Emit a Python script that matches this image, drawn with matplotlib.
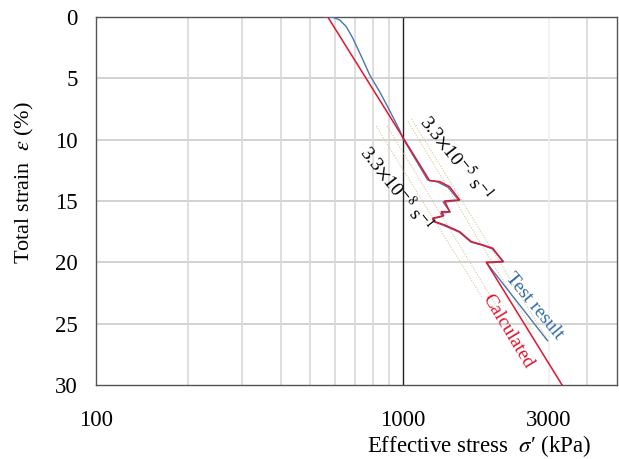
import matplotlib
matplotlib.use("Agg")
import matplotlib.pyplot as plt
import numpy as np

plt.rcParams['font.family'] = ['Liberation Serif', 'DejaVu Serif']
plt.rcParams['mathtext.fontset'] = 'stix'

# test result (effective stress kPa, total strain %)
test_stress = [557, 591, 623, 655, 687, 734, 781, 841, 893, 977, 1000, 1206,
               1300, 1410, 1468, 1525, 1355, 1430, 1330, 1352, 1250, 1266,
               1365, 1530, 1670, 1815, 1960, 2135, 1880, 2966]
test_strain = [0.0, 0.02, 0.24, 0.79, 1.71, 3.24, 4.73, 6.09, 7.31, 9.21, 9.86, 13.28,
               13.45, 13.9, 14.45, 14.95, 15.1, 15.9, 16.0, 16.25, 16.45, 16.7,
               17.0, 17.55, 18.35, 18.6, 18.9, 19.95, 20.05, 26.38]

# calculated
calc_stress = [570, 1000, 1224, 1320, 1422, 1476, 1534, 1370, 1423, 1337, 1360,
               1255, 1271, 1370, 1534, 1674, 1822, 1968, 2122, 1873, 3310]
calc_strain = [0.0, 9.78, 13.34, 13.42, 13.83, 14.37, 14.91, 15.0, 15.87, 15.87, 16.2,
               16.4, 16.68, 16.95, 17.5, 18.31, 18.58, 18.85, 19.94, 19.99, 30.0]

# isotachs (start / end points)
iso_stress = [[819, 1810], [890, 2050], [1040, 2650], [1068, 3000]]
iso_strain = [[8.9, 22.8], [8.9, 23.8], [8.5, 25.5], [8.3, 26.5]]

x_ticks = [100, 1000, 3000]
y_ticks = [0, 5, 10, 15, 20, 25, 30]
minor_grid = [200, 300, 400, 500, 600, 700, 800, 900, 4000]

fig = plt.figure(figsize=(6.19, 4.59), dpi=100)
ax = fig.add_axes([0.1551, 0.1612, 0.8417, 0.8018])

ax.set_xscale('log')
ax.set_xlim(100, 5000)
ax.set_ylim(30, 0)

for y in y_ticks[1:-1]:
    ax.axhline(y, color='#cfcfcf', lw=1.3, zorder=1)
for x in minor_grid:
    ax.axvline(x, color='#d6d6d6', lw=1.1, zorder=1)
ax.axvline(3000, color='#eeeeee', lw=1.1, zorder=1)
ax.axvline(1000, color='#222222', lw=1.0, zorder=2)

for s, e in zip(iso_stress, iso_strain):
    ax.plot(s, e, color='#d8c48e', lw=0.7, ls=(0, (1.2, 1.5)), zorder=2)

ax.plot(test_stress, test_strain, color='#4a76b0', lw=1.0, zorder=3)
ax.plot(calc_stress, calc_strain, color='#e2142f', lw=1.1, zorder=4)

ax.set_xticks(x_ticks)
ax.set_xticklabels([str(v) for v in x_ticks])
ax.xaxis.set_minor_locator(matplotlib.ticker.NullLocator())
ax.set_yticks(y_ticks)
ax.tick_params(axis='x', length=0, pad=18, labelsize=16.5)
ax.tick_params(axis='y', length=0, pad=13, labelsize=16.5)

for sp in ax.spines.values():
    sp.set_color('#555555')
    sp.set_linewidth(1.0)

ax.set_xlabel("Effective stress  $\\sigma$\u2032 (kPa)", fontsize=16.5)
ax.xaxis.set_label_coords(0.735, -0.13)
ax.set_ylabel("Total strain  $\\varepsilon$ (%)", fontsize=16)
ax.yaxis.set_label_coords(-0.115, 0.55)

ax.text(1488, 11.49, r"3.3$\times$10$^{-5}$ s$^{-1}$", fontsize=14, rotation=-51.8,
        rotation_mode='anchor', ha='center', va='center', zorder=5)
ax.text(956, 13.94, r"3.3$\times$10$^{-8}$ s$^{-1}$", fontsize=14, rotation=-51.6,
        rotation_mode='anchor', ha='center', va='center', zorder=5)
ax.text(2692, 23.55, "Test result", color='#2f6aa3', fontsize=14, rotation=-50.3,
        rotation_mode='anchor', ha='center', va='center', zorder=5)
ax.text(2198, 25.6, "Calculated", color='#e2142f', fontsize=14, rotation=-58.8,
        rotation_mode='anchor', ha='center', va='center', zorder=5)

fig.savefig('out.png', dpi=100)
